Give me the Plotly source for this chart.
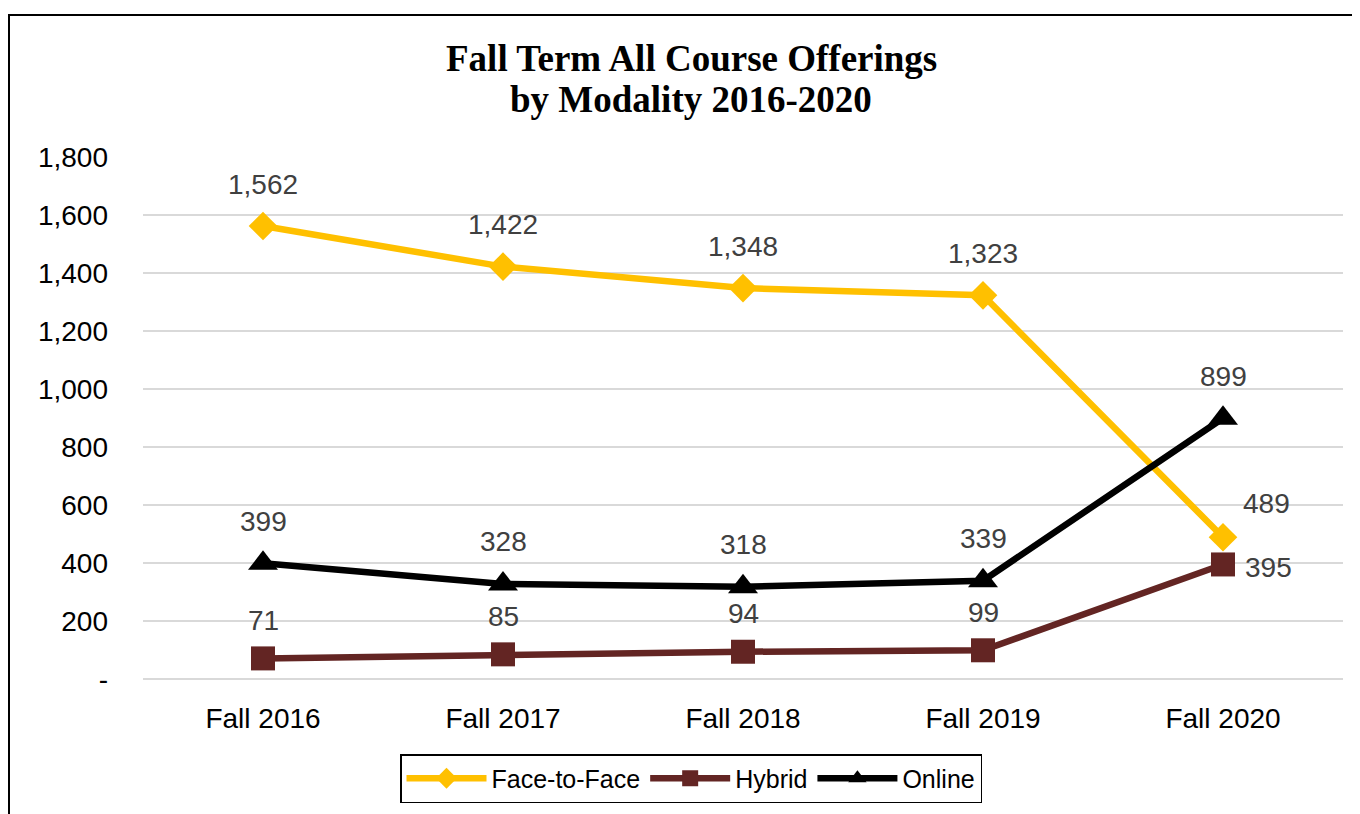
import plotly.graph_objects as go

categories = ["Fall 2016", "Fall 2017", "Fall 2018", "Fall 2019", "Fall 2020"]
face_to_face = [1562, 1422, 1348, 1323, 489]
hybrid = [71, 85, 94, 99, 395]
online = [399, 328, 318, 339, 899]
y_ticks = [0, 200, 400, 600, 800, 1000, 1200, 1400, 1600, 1800]
y_tick_labels = ["-", "200", "400", "600", "800", "1,000", "1,200", "1,400", "1,600", "1,800"]
title_lines = ["Fall Term All Course Offerings", "by Modality 2016-2020"]

FONT = "Liberation Sans"
W, H = 1352, 806
L, R, T, B = 135, 17, 149, 135
PW, PH = W - L - R, H - T - B

def px_x(x):
    return (x - L) / PW

def px_y(y):
    return (H - B - y) / PH

fig = go.Figure()

series = [
    ("Face-to-Face", face_to_face, "#FFC000", "diamond", 22),
    ("Hybrid", hybrid, "#632523", "square", 24),
    ("Online", online, "#000000", "triangle-up", 26),
]
for name, vals, color, sym, size in series:
    fig.add_trace(go.Scatter(
        x=categories, y=vals, name=name, mode="lines+markers",
        line=dict(color=color, width=6.5),
        marker=dict(symbol=sym, size=size, color=color),
    ))

label_shift = {
    "Face-to-Face": [(0, 42), (0, 42), (0, 42), (0, 42), (43, 34)],
    "Hybrid": [(0, 38), (0, 38), (0, 38), (0, 38), (45, -3)],
    "Online": [(0, 42), (0, 42), (0, 42), (0, 42), (0, 42)],
}
for name, vals, color, sym, size in series:
    for i, (c, v) in enumerate(zip(categories, vals)):
        dx, dy = label_shift[name][i]
        fig.add_annotation(x=c, y=v, text=f"{v:,}", showarrow=False,
                           xshift=dx, yshift=dy,
                           font=dict(family=FONT, size=28, color="#404040"))

# title lines
for line, yc in zip(title_lines, [51, 92]):
    fig.add_annotation(xref="paper", yref="paper", x=px_x(683), y=px_y(yc),
                       xanchor="center", yanchor="middle", showarrow=False,
                       text=f"<b>{line}</b>",
                       font=dict(family="Liberation Serif", size=37, color="black"))

# outer chart border
fig.add_shape(type="rect", xref="paper", yref="paper",
              x0=px_x(1), x1=px_x(W + 20), y0=px_y(H + 20), y1=px_y(7),
              line=dict(color="black", width=2), fillcolor="rgba(0,0,0,0)", layer="below")

fig.update_layout(
    width=W, height=H,
    margin=dict(l=L, r=R, t=T, b=B),
    paper_bgcolor="white", plot_bgcolor="white",
    xaxis=dict(type="category", range=[-0.5, 4.5], showgrid=False, showline=False,
               ticks="", tickfont=dict(family=FONT, size=28, color="black"), ticklabelstandoff=20),
    yaxis=dict(range=[0, 1800], tickvals=y_ticks, ticktext=y_tick_labels,
               showgrid=True, gridcolor="#D9D9D9", gridwidth=1.5,
               zeroline=True, zerolinecolor="#D9D9D9", zerolinewidth=1.5,
               showline=False, ticks="", tickfont=dict(family=FONT, size=28, color="black"),
               ticklabelstandoff=34),
    legend=dict(orientation="h", xref="container", yref="container",
                x=683 / W, xanchor="center", y=1 - 746 / H, yanchor="top",
                bordercolor="black", borderwidth=1.5, itemwidth=80,
                font=dict(family=FONT, size=25, color="black"), bgcolor="white"),
    showlegend=True,
)

fig.write_html("out.html")
